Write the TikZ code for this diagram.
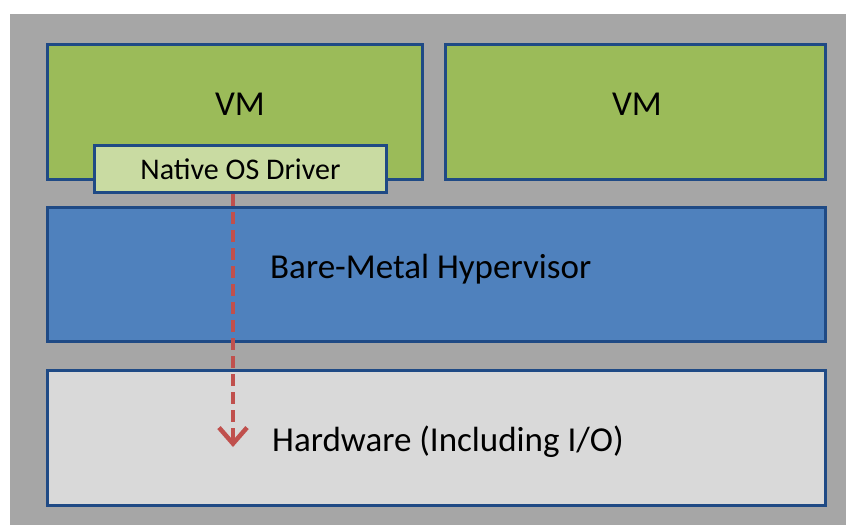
\documentclass[tikz,border=0pt]{standalone}
\usepackage{fontspec}
\setmainfont{Carlito}
\usetikzlibrary{arrows.meta}
\definecolor{panelgray}{HTML}{A6A6A6}
\definecolor{vmgreen}{HTML}{9BBB59}
\definecolor{drvgreen}{HTML}{C9DBA2}
\definecolor{hvblue}{HTML}{4F81BD}
\definecolor{hwgray}{HTML}{D9D9D9}
\definecolor{edgeblue}{HTML}{1F4A85}
\definecolor{flowred}{HTML}{C0504D}
\begin{document}
\begin{tikzpicture}[x=1pt,y=-1pt,
  layer/.style={draw=edgeblue,line width=3pt,anchor=north west,inner sep=0pt,text=black},
  big/.style={font=\fontsize{35}{40}\selectfont},
  flow/.style={draw=flowred,line width=4.5pt,dash pattern=on 12pt off 6pt,
    -{Straight Barb[length=16pt,width=28pt,line width=4.5pt]}}]
  \useasboundingbox (0,0) rectangle (846,525);
  % grey backdrop
  \fill[panelgray] (10,14) rectangle (846,525);
  % guest machines
  \node[layer,fill=vmgreen,minimum width=375pt,minimum height=135pt] (vm1) at (46,43) {};
  \node[big] (vm1t) at (240,104) {VM};
  \node[layer,fill=vmgreen,minimum width=380pt,minimum height=135pt] (vm2) at (444,43) {};
  \node[big] (vm2t) at (637,104) {VM};
  % hypervisor layer
  \node[layer,fill=hvblue,minimum width=778pt,minimum height=134pt] (hv) at (46,206) {};
  \node[big,anchor=west,inner sep=0pt] (hvt) at (270,269) {Bare-Metal Hypervisor};
  % hardware layer
  \node[layer,fill=hwgray,minimum width=778pt,minimum height=135pt] (hw) at (46,369) {};
  \node[big,anchor=west,inner sep=0pt] (hwt) at (272,442) {Hardware (Including I/O)};
  % driver inside the first VM
  \node[layer,fill=drvgreen,minimum width=292pt,minimum height=47pt,
    font=\fontsize{30}{34}\selectfont] (drv) at (93,144) {Native OS Driver};
  \coordinate (io) at (233,447);
  \draw[flow] (drv.south -| io) -- (io);
\end{tikzpicture}
\end{document}
